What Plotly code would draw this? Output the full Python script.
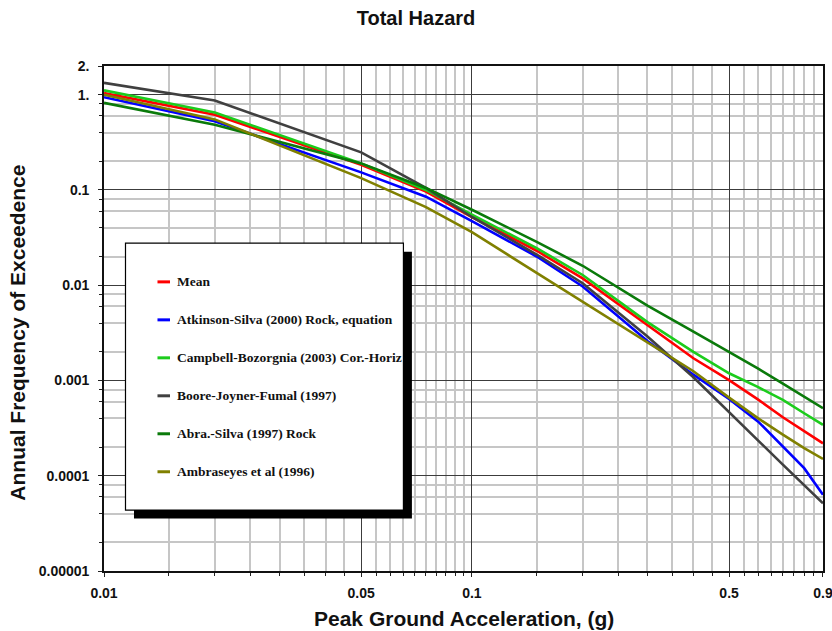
import plotly.graph_objects as go

# Peak ground acceleration (g) at which each hazard curve is evaluated
pga = [0.01, 0.02, 0.05, 0.075, 0.1, 0.15, 0.2, 0.3, 0.4, 0.5, 0.6, 0.7, 0.8, 0.9]

# Annual frequency of exceedence for each attenuation model
mean = [1.04, 0.617, 0.184, 0.096, 0.052, 0.0230, 0.0118, 0.0038, 0.00171, 0.00101,
        0.00063, 0.000411, 0.000294, 0.000219]
atkinson_silva = [0.94, 0.525, 0.153, 0.085, 0.047, 0.020, 0.0097, 0.0026, 0.00115, 0.00064,
                  0.00037, 0.000205, 0.00012, 0.000063]
campbell_bozorgnia = [1.11, 0.65, 0.19, 0.10, 0.055, 0.0245, 0.0128, 0.0041, 0.0020, 0.00119,
                      0.00085, 0.000625, 0.000453, 0.000342]
boore_joyner_fumal = [1.33, 0.87, 0.248, 0.105, 0.052, 0.021, 0.0105, 0.0029, 0.00108, 0.00046,
                      0.000234, 0.000131, 0.0000793, 0.0000514]
abra_silva = [0.82, 0.484, 0.19, 0.105, 0.062, 0.0285, 0.0160, 0.0061, 0.00325, 0.00201,
              0.00133, 0.000925, 0.000675, 0.000512]
ambraseyes = [1.0, 0.55, 0.133, 0.066, 0.036, 0.0135, 0.0066, 0.0025, 0.00125, 0.00066,
              0.00040, 0.00027, 0.000195, 0.00015]

series_names = ["Mean", "Atkinson-Silva (2000) Rock, equation",
                "Campbell-Bozorgnia (2003) Cor.-Horiz", "Boore-Joyner-Fumal (1997)",
                "Abra.-Silva (1997) Rock", "Ambraseyes et al (1996)"]
series_values = [mean, atkinson_silva, campbell_bozorgnia, boore_joyner_fumal,
                 abra_silva, ambraseyes]
series_colors = ["#ff0000", "#0000ff", "#1ccc1c", "#404040", "#0a7a0a", "#808000"]

# Axis tick labels
x_tick_vals = [0.01, 0.05, 0.1, 0.5, 0.9]
x_tick_text = ["0.01", "0.05", "0.1", "0.5", "0.9"]
y_tick_vals = [1e-5, 1e-4, 1e-3, 1e-2, 1e-1, 1, 2]
y_tick_text = ["0.00001", "0.0001", "0.001", "0.01", "0.1", "1.", "2."]

# Minor grid positions
x_minor = ([round(0.01 + 0.005 * i, 4) for i in range(1, 18) if i != 8] +
           [round(0.1 + 0.05 * i, 3) for i in range(1, 16) if i != 8])
y_minor = [m * 10.0 ** e for e in range(-5, 1) for m in (2, 4, 6, 8) if m * 10.0 ** e < 1]

W, H = 832, 631
ML, MR, MT, MB = 103.5, 9.3, 65.7, 60

fig = go.Figure()
for name, vals, col in zip(series_names, series_values, series_colors):
    fig.add_trace(go.Scatter(x=pga, y=vals, mode="lines", name=name,
                             line=dict(color=col, width=2.6), showlegend=False))

tick_font = dict(family="Liberation Sans, Arial", size=14, color="#111", weight="bold")
grid_major = "#3c3c3c"
grid_minor = "#c6c6c6"

fig.update_xaxes(type="log", range=[-2.00002, -0.04574], tickmode="array",
                 tickvals=x_tick_vals, ticktext=x_tick_text, tickfont=tick_font,
                 ticklabeloverflow="allow",
                 showgrid=True, gridcolor=grid_major, gridwidth=1.4,
                 ticks="outside", ticklen=4, tickcolor="#222", tickwidth=1.2,
                 minor=dict(tickmode="array", tickvals=x_minor, showgrid=True,
                            gridcolor=grid_minor, gridwidth=1.5, ticks="outside",
                            ticklen=3, tickcolor="#222", tickwidth=1.2),
                 showline=True, linecolor="#111", linewidth=1.6, mirror=True,
                 zeroline=False, ticklabelstandoff=4)
fig.update_yaxes(type="log", range=[-5.00002, 0.30105], tickmode="array",
                 tickvals=y_tick_vals, ticktext=y_tick_text, tickfont=tick_font,
                 ticklabeloverflow="allow",
                 showgrid=True, gridcolor=grid_major, gridwidth=1.4,
                 ticks="outside", ticklen=4, tickcolor="#222", tickwidth=1.2,
                 minor=dict(tickmode="array", tickvals=y_minor,
                            showgrid=True, gridcolor=grid_minor, gridwidth=1.5,
                            ticks="outside", ticklen=3, tickcolor="#222", tickwidth=1.2),
                 showline=True, linecolor="#111", linewidth=1.6, mirror=True,
                 zeroline=False, ticklabelstandoff=6)

pw = W - ML - MR
ph = H - MT - MB


def px_x(px):
    return (px - ML) / pw


def px_y(py):
    return (H - MB - py) / ph


# Legend panel with drop shadow
box = dict(x0=125, x1=403, y0=243, y1=510)
shadow_off = 8.5
fig.add_shape(type="rect", xref="paper", yref="paper", layer="above",
              x0=px_x(box["x0"] + shadow_off), x1=px_x(box["x1"] + shadow_off),
              y0=px_y(box["y1"] + shadow_off), y1=px_y(box["y0"] + shadow_off),
              fillcolor="black", line=dict(width=0))
fig.add_shape(type="rect", xref="paper", yref="paper", layer="above",
              x0=px_x(box["x0"]), x1=px_x(box["x1"]),
              y0=px_y(box["y1"]), y1=px_y(box["y0"]),
              fillcolor="white", line=dict(color="black", width=1.2))

row0, row_gap = 281.7, 38
for i, (name, col) in enumerate(zip(series_names, series_colors)):
    yc = row0 + i * row_gap
    fig.add_shape(type="line", xref="paper", yref="paper", layer="above",
                  x0=px_x(157), x1=px_x(169.5), y0=px_y(yc), y1=px_y(yc),
                  line=dict(color=col, width=3))
    fig.add_annotation(xref="paper", yref="paper", x=px_x(175), y=px_y(yc),
                       xanchor="left", yanchor="middle", showarrow=False,
                       text="<b>" + name + "</b>",
                       font=dict(family="Liberation Serif, Times New Roman", size=13.5,
                                 color="#111"))

# Axis titles
fig.add_annotation(xref="paper", yref="paper", x=px_x(463.5), y=0, yshift=-(618 - (H - MB)),
                   xanchor="center", yanchor="middle", showarrow=False,
                   text="<b>Peak Ground Acceleration, (g)</b>",
                   font=dict(family="Liberation Sans, Arial", size=21, color="#111"))
fig.add_annotation(xref="paper", yref="paper", x=0, xshift=17 - ML, y=px_y(333),
                   xanchor="center", yanchor="middle", showarrow=False, textangle=-90,
                   text="<b>Annual Frequency of Exceedence</b>",
                   font=dict(family="Liberation Sans, Arial", size=21, color="#111"))

fig.update_layout(
    width=W, height=H,
    margin=dict(l=ML, r=MR, t=MT, b=MB, autoexpand=False),
    paper_bgcolor="white", plot_bgcolor="white",
    title=dict(text="<b>Total Hazard</b>", x=0.5, xref="container",
               xanchor="center", y=1 - 18 / H, yanchor="middle",
               font=dict(family="Liberation Sans, Arial", size=20, color="#111")),
    showlegend=False,
)

fig.write_html("out.html")
